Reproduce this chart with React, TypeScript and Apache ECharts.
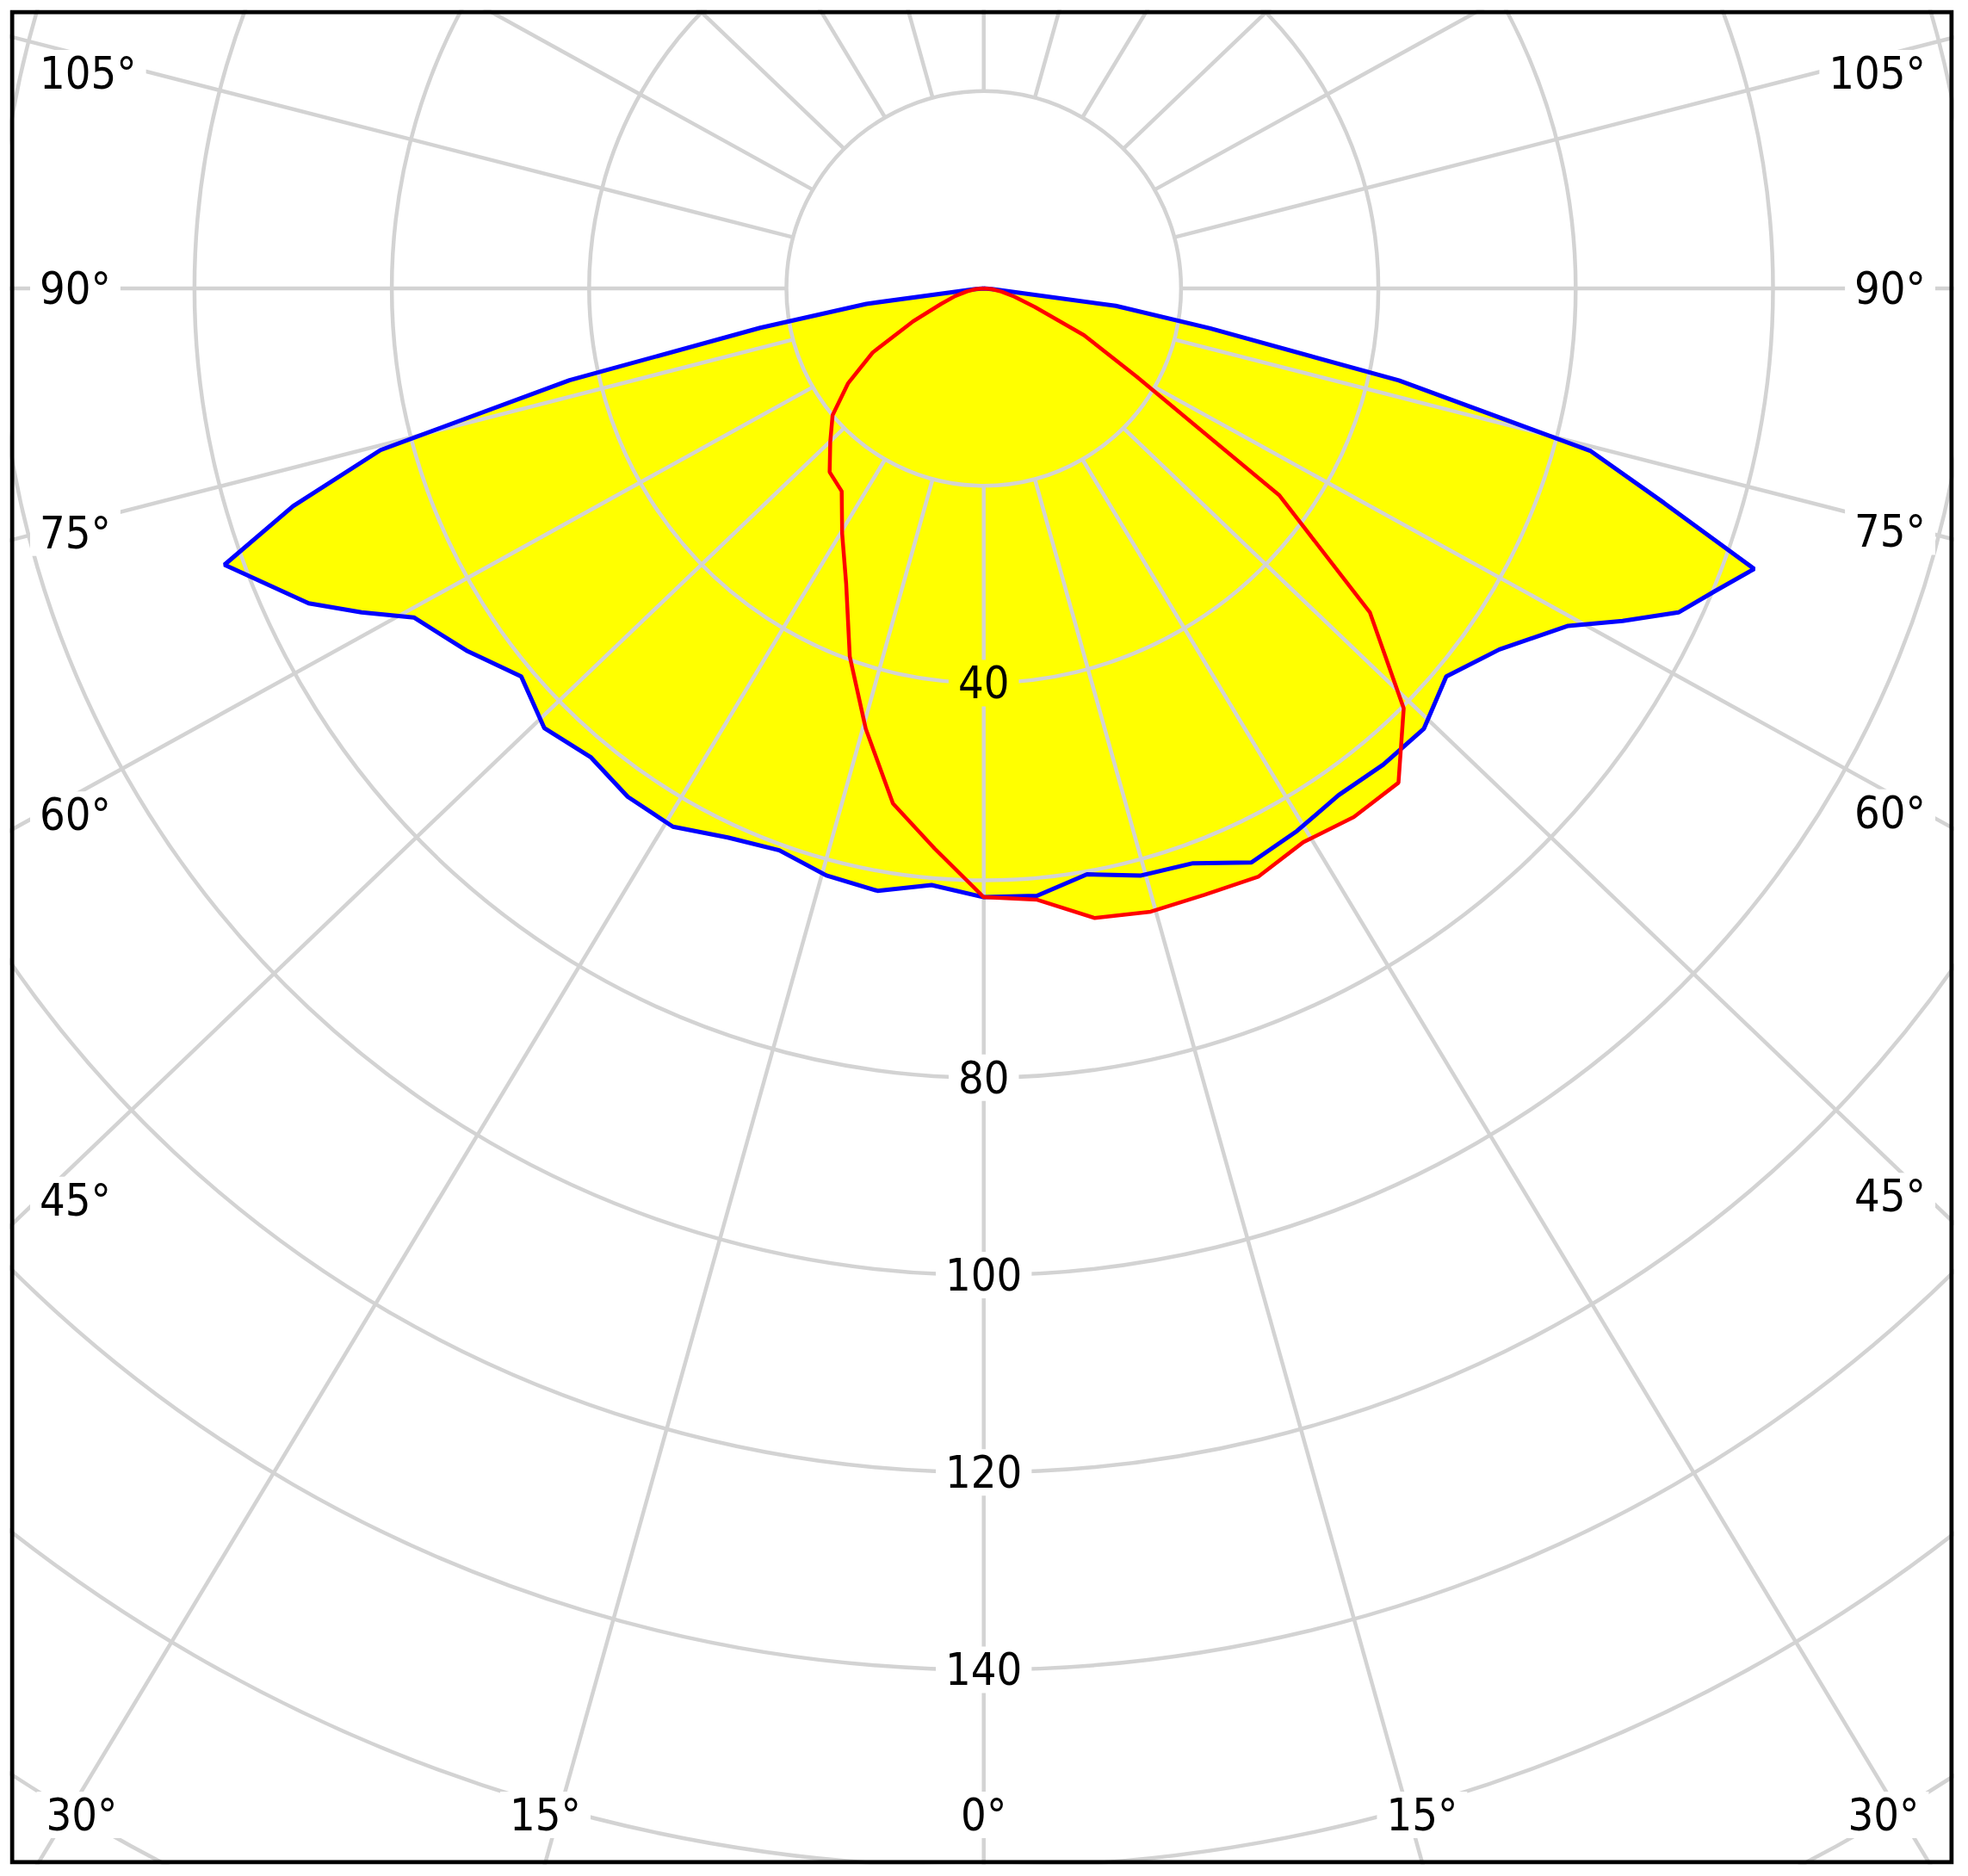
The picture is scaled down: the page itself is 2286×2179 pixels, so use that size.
import React, { useEffect, useRef } from "react";
import * as echarts from "echarts";

// ---------- data (candela-like values) ----------
const radiusTickLabels = [40, 80, 100, 120, 140];
const angleTickLabels = [0, 15, 30, 45, 60, 75, 90, 105];

// C0 / C180 plane (blue, filled) – gamma angles
const blueAngles = [0, 5, 10, 15, 20, 25, 30, 35, 40, 45, 50, 55, 60, 62.5, 65, 67.5, 70, 72.5, 75, 77.5, 80, 82.5, 85, 87.5, 90];
const blueLeft = [61.7, 60.7, 62.0, 61.6, 60.6, 61.4, 63.0, 62.9, 62.0, 63.0, 61.2, 64.0, 66.7, 71.1, 75.5, 78.5, 81.9, 73.4, 63.3, 43.0, 23.0, 12.0, 1.0, 0.3, 0];
const blueRight = [61.7, 61.8, 60.3, 61.6, 62.0, 64.2, 63.5, 62.7, 63.0, 63.1, 61.2, 63.8, 68.4, 73.0, 77.7, 80.2, 83.1, 72.3, 63.7, 43.1, 23.3, 13.5, 1.0, 0.3, 0];

// C90 / C270 plane (red)
const redAngles = [0, 5, 10, 15, 20, 25, 30, 35, 40, 45, 50, 55, 60, 65, 70, 75, 80, 85, 90];
const redLeft = [61.7, 57.0, 53.0, 46.2, 39.7, 33.0, 28.7, 25.1, 24.3, 22.0, 20.0, 16.8, 13.0, 7.9, 4.6, 3.0, 1.7, 0.8, 0];
const redRight = [61.7, 62.2, 64.8, 65.4, 65.4, 65.8, 64.8, 65.4, 65.4, 60.2, 51.1, 36.6, 17.9, 11.2, 5.5, 3.2, 1.8, 0.8, 0];

// ---------- layout / style ----------
const PAGE_W = 2286;
const PAGE_H = 2179;
const FRAME = { left: 14, top: 14, right: 2267, bottom: 2163 };
const CHART_X = 10;
const CHART_Y = 10;
const CHART_W = 2261;
const CHART_H = 2157;
const CX = 1142.7; // page coords of the pole
const CY = 335;
const PX_PER_UNIT = 11.46;
const AXIS_MAX = 240;
const INNER_R = 20;
const SPOKE_STRETCH = 1.045;
const GRID = "#d3d3d3";
const GRID_W = 4.5;
const FONT_FAMILY = "'DejaVu Sans Condensed', 'Liberation Sans', sans-serif";
const FONT_SIZE = 52;
const YELLOW = "#ffff00";

function buildCurve(angles: number[], left: number[], right: number[]) {
  const pts: number[][] = [];
  for (let i = angles.length - 1; i >= 0; i--) pts.push([left[i], angles[i]]);
  for (let i = 1; i < angles.length; i++) pts.push([right[i], -angles[i]]);
  return pts;
}

function buildSpokes() {
  const series: any[] = [];
  for (let a = -165; a <= 180; a += 15) {
    const rad = (a * Math.PI) / 180;
    const ex = (INNER_R + 200 * SPOKE_STRETCH) * Math.sin(rad);
    const ey = (INNER_R + 200) * Math.cos(rad);
    const endR = Math.hypot(ex, ey);
    let endA = (Math.atan2(ex, ey) * 180) / Math.PI;
    if (a === 180) endA = 180;
    series.push({
      type: "line",
      coordinateSystem: "polar",
      data: [
        [INNER_R, a],
        [endR, endA],
      ],
      symbol: "none",
      silent: true,
      z: 3,
      clip: false,
      lineStyle: { color: GRID, width: GRID_W },
    });
  }
  return series;
}

function buildAngleLabels() {
  const els: any[] = [];
  const sideInsetL = 84;
  const sideInsetR = 2197;
  for (const g of angleTickLabels) {
    for (const side of [1, -1]) {
      if (g === 0 && side === -1) continue;
      const sg = g * side;
      const rad = (sg * Math.PI) / 180;
      const ux = -Math.sin(rad);
      const uy = Math.cos(rad);
      const sx = CX + INNER_R * PX_PER_UNIT * ux;
      const sy = CY + INNER_R * PX_PER_UNIT * uy;
      const dx = SPOKE_STRETCH * ux;
      const dy = uy;
      let best = Infinity;
      let edge = "";
      const tryEdge = (t: number, e: string) => {
        if (t > 0 && t < best) {
          best = t;
          edge = e;
        }
      };
      if (dx < -1e-9) tryEdge((FRAME.left - sx) / dx, "left");
      if (dx > 1e-9) tryEdge((FRAME.right - sx) / dx, "right");
      if (dy > 1e-9) tryEdge((FRAME.bottom - sy) / dy, "bottom");
      if (dy < -1e-9) tryEdge((FRAME.top - sy) / dy, "top");
      let x = 0;
      let y = 0;
      let align = "center";
      if (edge === "left" || edge === "right") {
        const xi = edge === "left" ? sideInsetL : sideInsetR;
        y = CY + ((xi - CX) / ux) * uy;
        y = Math.max(85, Math.min(2108, y));
        if (edge === "left") {
          x = 35;
          align = "left";
        } else {
          x = 2248;
          align = "right";
        }
      } else if (edge === "bottom") {
        x = sx + dx * best;
        x = Math.max(95, Math.min(2188, x));
        y = 2108;
      } else continue;
      els.push({
        type: "text",
        x: x - CHART_X,
        y: y - CHART_Y,
        z: 6,
        silent: true,
        style: {
          text: g + "°",
          fontSize: FONT_SIZE,
          fontFamily: FONT_FAMILY,
          fill: "#000",
          align,
          verticalAlign: "middle",
          backgroundColor: "#fff",
          padding: [0, 11],
          lineHeight: 54,
        },
      });
    }
  }
  return els;
}

export default function App() {
  const ref = useRef<HTMLDivElement>(null);
  useEffect(() => {
    if (!ref.current) return;
    const chart = echarts.init(ref.current, null, { renderer: "svg" });
    const blue = buildCurve(blueAngles, blueLeft, blueRight);
    const red = buildCurve(redAngles, redLeft, redRight);
    const option: any = {
      animation: false,
      polar: {
        center: [CX - CHART_X, CY - CHART_Y],
        radius: AXIS_MAX * PX_PER_UNIT,
      },
      angleAxis: {
        type: "value",
        min: -180,
        max: 180,
        startAngle: 90,
        clockwise: true,
        axisLine: { show: false },
        axisTick: { show: false },
        axisLabel: { show: false },
        splitLine: { show: false },
      },
      radiusAxis: {
        type: "value",
        min: 0,
        max: AXIS_MAX,
        interval: 20,
        z: 3,
        axisLine: { show: false },
        axisTick: { show: false },
        axisLabel: { show: false },
        splitLine: { show: true, lineStyle: { color: GRID, width: GRID_W } },
      },
      series: [
        {
          type: "line",
          coordinateSystem: "polar",
          data: blue,
          symbol: "none",
          silent: true,
          z: 1,
          lineStyle: { width: 0, color: YELLOW },
          areaStyle: { color: YELLOW, opacity: 1 },
        },
        {
          type: "line",
          coordinateSystem: "polar",
          data: red,
          symbol: "none",
          silent: true,
          z: 1,
          lineStyle: { width: 0, color: YELLOW },
          areaStyle: { color: YELLOW, opacity: 1 },
        },
        ...buildSpokes(),
        {
          type: "scatter",
          coordinateSystem: "polar",
          symbolSize: 1,
          silent: true,
          z: 4,
          itemStyle: { color: "rgba(0,0,0,0)", opacity: 1 },
          data: radiusTickLabels.map((r) => ({
            value: [r, 0],
            label: { backgroundColor: r < blueLeft[0] ? YELLOW : "#fff" },
          })),
          label: {
            show: true,
            position: "inside",
            formatter: (p: any) => String(p.value[0]),
            fontSize: FONT_SIZE,
            fontFamily: FONT_FAMILY,
            color: "#000",
            opacity: 1,
            padding: [0, 11],
            lineHeight: 54,
          },
        },
        {
          type: "line",
          coordinateSystem: "polar",
          data: blue,
          symbol: "none",
          silent: true,
          z: 5,
          lineStyle: { color: "#0000ff", width: 5 },
        },
        {
          type: "line",
          coordinateSystem: "polar",
          data: red,
          symbol: "none",
          silent: true,
          z: 6,
          lineStyle: { color: "#ff0000", width: 4.5 },
        },
      ],
      graphic: [
        ...buildAngleLabels(),
        {
          type: "rect",
          z: 10,
          silent: true,
          shape: {
            x: FRAME.left - CHART_X,
            y: FRAME.top - CHART_Y,
            width: FRAME.right - FRAME.left,
            height: FRAME.bottom - FRAME.top,
          },
          style: { fill: "rgba(0,0,0,0)", stroke: "#000", lineWidth: 5 },
        },
      ],
    };
    chart.setOption(option);
    return () => chart.dispose();
  }, []);
  return (
    <div style={{ position: "absolute", left: 0, top: 0, width: PAGE_W, height: PAGE_H, background: "#fff", overflow: "hidden" }}>
      <div ref={ref} style={{ position: "absolute", left: CHART_X, top: CHART_Y, width: CHART_W, height: CHART_H, clipPath: `inset(${FRAME.top - CHART_Y - 2.5}px ${CHART_X + CHART_W - FRAME.right - 2.5}px ${CHART_Y + CHART_H - FRAME.bottom - 2.5}px ${FRAME.left - CHART_X - 2.5}px)` }} />
    </div>
  );
}
